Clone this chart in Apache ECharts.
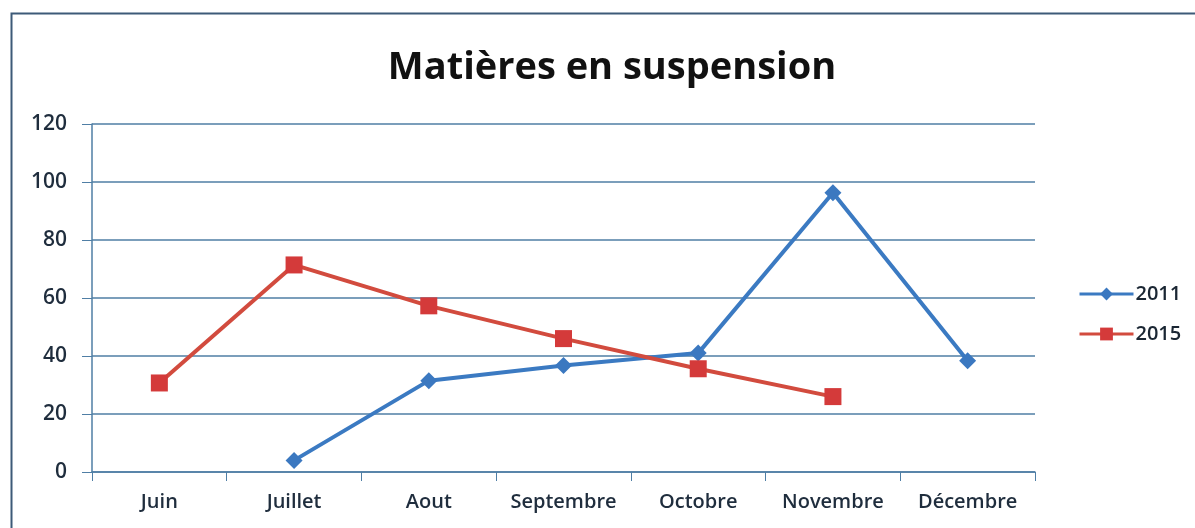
<!DOCTYPE html>
<html>
<head>
<meta charset="utf-8">
<script src="https://cdn.jsdelivr.net/npm/echarts@6/dist/echarts.min.js"></script>
<style>
html,body{margin:0;padding:0;background:#fff;}
#c{width:1195px;height:528px;}
</style>
</head>
<body>
<div id="c"></div>
<script>
const categories = ['Juin','Juillet','Aout','Septembre','Octobre','Novembre','Décembre'];
const series2011 = [null, 4, 31.5, 36.7, 41, 96.3, 38.4];
const series2015 = [30.7, 71.4, 57.3, 46, 35.6, 26, null];
const yTicks = [0, 20, 40, 60, 80, 100, 120];

const chart = echarts.init(document.getElementById('c'), null, {renderer:'canvas'});
const font = '"Open Sans", "Noto Sans", sans-serif';
chart.setOption({
  backgroundColor: '#ffffff',
  animation: false,
  title: {
    text: 'Matières en suspension',
    left: 607, top: 44, textAlign: 'center',
    textStyle: {fontFamily: font, fontSize: 38, fontWeight: 'bold', color: '#111111'}
  },
  graphic: [{
    type: 'rect', shape: {x: 11.5, y: 13.5, width: 1200, height: 530},
    style: {fill: 'none', stroke: '#3d5a78', lineWidth: 2}, silent: true
  }],
  legend: {
    orient: 'vertical', left: 1073, top: 279, itemGap: 20,
    itemWidth: 54, itemHeight: 16,
    lineStyle: {width: 3},
    textStyle: {fontFamily: font, fontSize: 20, fontWeight: 600, color: '#1a2633', padding: [0,0,0,-3]},
    data: ['2011','2015']
  },
  grid: {left: 92, right: 160, top: 124, bottom: 56},
  xAxis: {
    type: 'category', data: categories, boundaryGap: true,
    axisLine: {lineStyle: {color: '#4f7ea5', width: 1.5}},
    axisTick: {show: true, length: 9, inside: false, lineStyle: {color: '#4f7ea5'}},
    axisLabel: {fontFamily: font, fontSize: 20, fontWeight: 600, color: '#1f2d3d', margin: 20, interval: 0}
  },
  yAxis: {
    type: 'value', min: 0, max: 120, interval: 20,
    axisLine: {show: true, lineStyle: {color: '#4f7ea5', width: 1.5}},
    axisTick: {show: true, length: 10, lineStyle: {color: '#4f7ea5'}},
    splitLine: {lineStyle: {color: '#4f7ea5', width: 1.5}},
    axisLabel: {fontFamily: font, fontSize: 21, fontWeight: 600, color: '#1f2d3d', margin: 25,
      formatter: v => yTicks.includes(v) ? String(v) : ''}
  },
  series: [
    {
      name: '2011', type: 'line', data: series2011, connectNulls: false,
      symbol: 'diamond', symbolSize: 17,
      lineStyle: {color: '#3b7ac2', width: 4},
      itemStyle: {color: '#3b78c0'}
    },
    {
      name: '2015', type: 'line', data: series2015, connectNulls: false,
      symbol: 'rect', symbolSize: 17,
      lineStyle: {color: '#d24b3e', width: 4},
      itemStyle: {color: '#d43a3a'}
    }
  ]
});
</script>
</body>
</html>
